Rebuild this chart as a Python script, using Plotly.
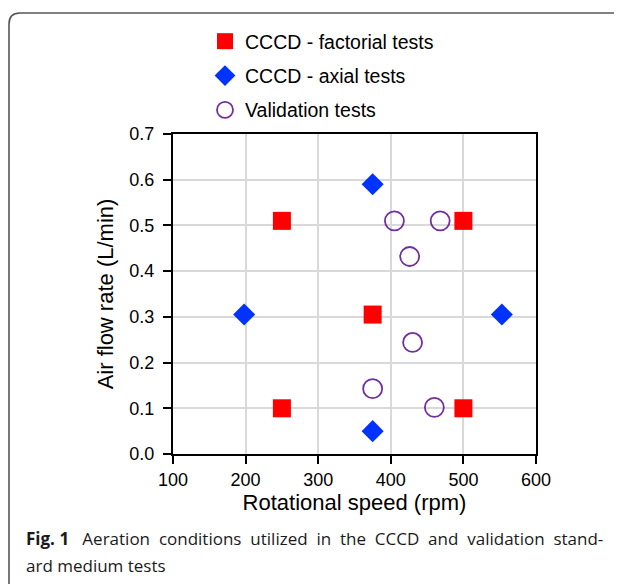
import plotly.graph_objects as go

# Data
fact_x = [250, 500, 375, 250, 500]
fact_y = [0.51, 0.51, 0.305, 0.10, 0.10]
axial_x = [375, 198, 553, 375]
axial_y = [0.59, 0.305, 0.305, 0.05]
valid_x = [405, 468, 426, 430, 375, 460]
valid_y = [0.51, 0.51, 0.432, 0.244, 0.143, 0.102]

x_ticks = [100, 200, 300, 400, 500, 600]
y_ticks = [0.0, 0.1, 0.2, 0.3, 0.4, 0.5, 0.6, 0.7]
y_ticklabels = ["0.0", "0.1", "0.2", "0.3", "0.4", "0.5", "0.6", "0.7"]

caption_words = ["Aeration", "conditions", "utilized", "in", "the", "CCCD", "and",
                 "validation", "stand-"]
caption_line2 = "ard medium tests"

OFF = 8  # page body margin
W, H = 622 - OFF, 584 - OFF
L, R, T, B = 173 - OFF, 536 - OFF, 134 - OFF, 454 - OFF

def px(x):
    return (x - OFF - L) / (R - L)

def py(y):
    return (B - (y - OFF)) / (B - T)

fig = go.Figure()
fig.add_trace(go.Scatter(x=fact_x, y=fact_y, mode="markers", name="CCCD - factorial tests",
                         legendgroup="a",
                         marker=dict(symbol="square", size=18, color="#ff0000")))
fig.add_trace(go.Scatter(x=axial_x, y=axial_y, mode="markers", name="CCCD - axial tests",
                         legendgroup="b",
                         marker=dict(symbol="diamond", size=17, color="#0033ff")))
fig.add_trace(go.Scatter(x=valid_x, y=valid_y, mode="markers", name="Validation tests",
                         legendgroup="c",
                         marker=dict(symbol="circle-open", size=19, color="#7030a0",
                                     line=dict(width=1.8, color="#7030a0"))))

font_main = "Liberation Sans, Arial, sans-serif"

fig.update_layout(
    width=W, height=H,
    margin=dict(l=L, r=W - R, t=T, b=H - B, autoexpand=False),
    paper_bgcolor="white", plot_bgcolor="white",
    font=dict(family=font_main, color="black", size=17),
    showlegend=True,
    legend=dict(x=px(205), y=py(22), xanchor="left", yanchor="top",
                font=dict(size=19.5, family=font_main), itemwidth=30,
                tracegroupgap=6, bgcolor="rgba(0,0,0,0)"),
    xaxis=dict(range=[100, 600], tickvals=x_ticks, ticks="outside", ticklen=8,
               tickcolor="black", tickwidth=1.5,
               showline=True, linecolor="black", linewidth=2, mirror=True,
               showgrid=True, gridcolor="#d9d9d9", gridwidth=1.5, zeroline=False,
               tickfont=dict(size=18),
               title=dict(text="Rotational speed (rpm)", font=dict(size=22), standoff=6)),
    yaxis=dict(range=[0, 0.7], tickvals=y_ticks, ticktext=y_ticklabels, ticks="outside",
               ticklen=8, tickcolor="black", tickwidth=1.5, ticklabelstandoff=5,
               showline=True, linecolor="black", linewidth=2, mirror=True,
               showgrid=True, gridcolor="#d9d9d9", gridwidth=1.5, zeroline=False,
               tickfont=dict(size=18),
               title=dict(text="Air flow rate (L/min)", font=dict(size=22), standoff=10)),
)

# Outer frame (open on the right/bottom, rounded top-left corner)
x0, y0, x1, y1 = px(9), py(590), px(630), py(13)
xc, yc = px(20), py(24)
path = (f"M {x0} {y0} L {x0} {yc} Q {x0} {y1} {xc} {y1} L {x1} {y1}")
fig.add_shape(type="path", path=path, xref="paper", yref="paper",
              line=dict(color="#555555", width=1.6), layer="above")

# Caption (justified first line: widen word gaps)
cap_font = "Open Sans, Noto Sans, sans-serif"
gap = "\u00a0 "
line1 = "<b>Fig. 1</b>\u00a0\u00a0 " + gap.join(caption_words)
fig.add_annotation(x=px(24), y=py(538), xref="paper", yref="paper", xanchor="left",
                   yanchor="middle", showarrow=False, text=line1,
                   font=dict(family=cap_font, size=17, color="#1a1a1a"))
fig.add_annotation(x=px(24), y=py(565), xref="paper", yref="paper", xanchor="left",
                   yanchor="middle", showarrow=False, text=caption_line2,
                   font=dict(family=cap_font, size=17, color="#1a1a1a"))

fig.write_html("out.html")
